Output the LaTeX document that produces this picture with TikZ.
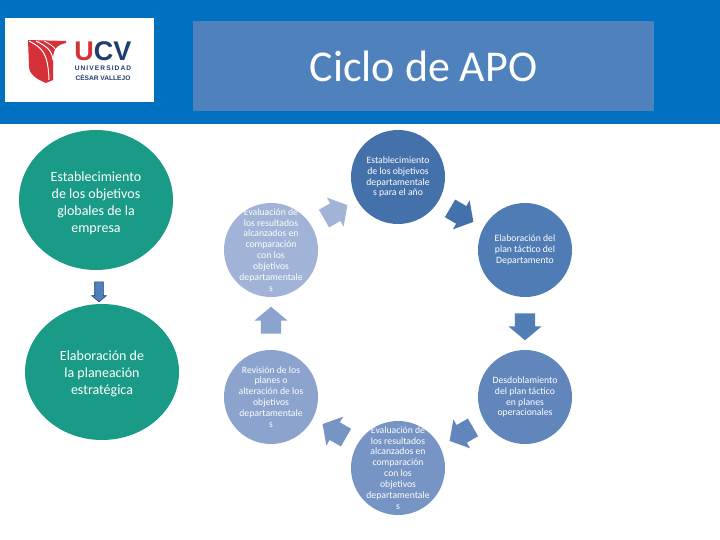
\documentclass[tikz,border=0pt]{standalone}
\usepackage{fontspec}
\setmainfont{Carlito}
\newfontfamily\logofont{Liberation Sans}
\usetikzlibrary{shapes.arrows,shapes.geometric}
\definecolor{hdr}{RGB}{0,112,192}
\definecolor{ttl}{RGB}{79,129,189}
\definecolor{teal}{RGB}{26,155,135}
\definecolor{ca}{RGB}{68,113,170}
\definecolor{cb}{RGB}{79,124,181}
\definecolor{cc}{RGB}{97,134,188}
\definecolor{cd}{RGB}{118,148,196}
\definecolor{ce}{RGB}{139,163,205}
\definecolor{cf}{RGB}{161,179,214}
\definecolor{ured}{RGB}{214,48,56}
\definecolor{unavy}{RGB}{30,62,110}
\tikzset{
 cyc/.style={circle,minimum size=94pt,inner sep=0pt},
 cyctext/.style={inner sep=0pt,text=white,align=center,font=\fontsize{9.7}{10.9}\selectfont},
 goal/.style={ellipse,fill=teal,text=white,align=center,font=\fontsize{14}{17}\selectfont,inner sep=0pt},
 blockarrow/.style={single arrow,draw=none,inner sep=0pt,text height=20pt,text depth=0pt,text width=0pt,minimum height=27pt,single arrow head extend=6.5pt,single arrow tip angle=100,single arrow head indent=0pt},
}
\begin{document}
\begin{tikzpicture}[x=1pt,y=-1pt]
\useasboundingbox (0,0) rectangle (720,540);
\fill[white] (0,0) rectangle (720,540);
\fill[hdr] (0,0) rectangle (720,124);
\fill[white] (5,18) rectangle (154,102);
\node[fill=ttl,minimum width=461pt,minimum height=90pt,inner sep=0pt,text=white,font=\fontsize{44}{48}\selectfont] (title) at (423.5,66) {Ciclo de APO};
% logo
\fill[ured] (28,40) -- (66,41) -- (66,43) .. controls (56,45) and (53,50) .. (53,60) -- (53,80) -- (46,83) .. controls (36,79) and (29,74) .. (29,66) -- cycle;
\draw[white,line width=1pt] (29,41) .. controls (42,48) and (48,52) .. (49,80);
\draw[white,line width=1pt] (36,41) .. controls (46,46) and (52,50) .. (53,60);
\draw[white,line width=.8pt] (44,41) .. controls (50,44) and (53,46) .. (56,50);
\node[inner sep=0pt,font=\logofont\bfseries\fontsize{27}{27}\selectfont] (ucv) at (103,51.5) {\textcolor{ured}{U}\textcolor{unavy}{CV}};
\node[inner sep=0pt,text=unavy,font=\logofont\bfseries\fontsize{6.6}{10}\selectfont,align=center] (uni) at (103,73.5) {U\,N\,I\,V\,E\,R\,S\,I\,D\,A\,D\\[0pt]CÉSAR VALLEJO};
% left
\node[goal,minimum width=154pt,minimum height=140pt] (g1) at (96,200) {};
\node[goal,fill=none,minimum width=0pt,minimum height=0pt,shape=rectangle] (g1t) at (96,203) {Establecimiento\\de los objetivos\\globales de la\\empresa};
\node[goal,minimum width=154pt,minimum height=136pt] (g2) at (102,372) {};
\node[goal,fill=none,minimum width=0pt,minimum height=0pt,shape=rectangle] (g2t) at (102,374) {Elaboración de\\la planeación\\estratégica};
\node[single arrow,draw=unavy,line width=.6pt,fill=ttl,inner sep=0pt,text height=8pt,text depth=0pt,text width=0pt,minimum height=20pt,single arrow head extend=3pt,single arrow tip angle=100,single arrow head indent=0pt,rotate=-90] (ga) at (99,290) {};
% cycle
\node[cyc,fill=ca] (c1) at (398,177) {};
\node[cyctext] (t1) at (c1) {Establecimiento\\de los objetivos\\departamentale\\s para el año};
\node[cyc,fill=cb] (c2) at (525,250) {};
\node[cyctext] (t2) at (c2) {Elaboración del\\plan táctico del\\Departamento};
\node[cyc,fill=cc] (c3) at (525,397) {};
\node[cyctext] (t3) at (c3) {Desdoblamiento\\del plan táctico\\en planes\\operacionales};
\node[cyc,fill=cd] (c4) at (398,468) {};
\node[cyctext] (t4) at (c4) {Evaluación de\\los resultados\\alcanzados en\\comparación\\con los\\objetivos\\departamentale\\s};
\node[cyc,fill=ce] (c5) at (271,397) {};
\node[cyctext] (t5) at (c5) {Revisión de los\\planes o\\alteración de los\\objetivos\\departamentale\\s};
\node[cyc,fill=cf] (c6) at (271,250) {};
\node[cyctext] (t6) at (c6) {Evaluación de\\los resultados\\alcanzados en\\comparación\\con los\\objetivos\\departamentale\\s};
\node[blockarrow,fill=ca,rotate=-30] (a1) at (458,213) {};
\node[blockarrow,fill=cb!85!cc,rotate=-90] (a2) at (525,322.5) {};
\node[blockarrow,fill=cc,rotate=210] (a3) at (465,432) {};
\node[blockarrow,fill=cd,rotate=150] (a4) at (338,433) {};
\node[blockarrow,fill=ce,rotate=90] (a5) at (271,324.5) {};
\node[blockarrow,fill=cf,rotate=30] (a6) at (332,214) {};
\end{tikzpicture}
\end{document}
